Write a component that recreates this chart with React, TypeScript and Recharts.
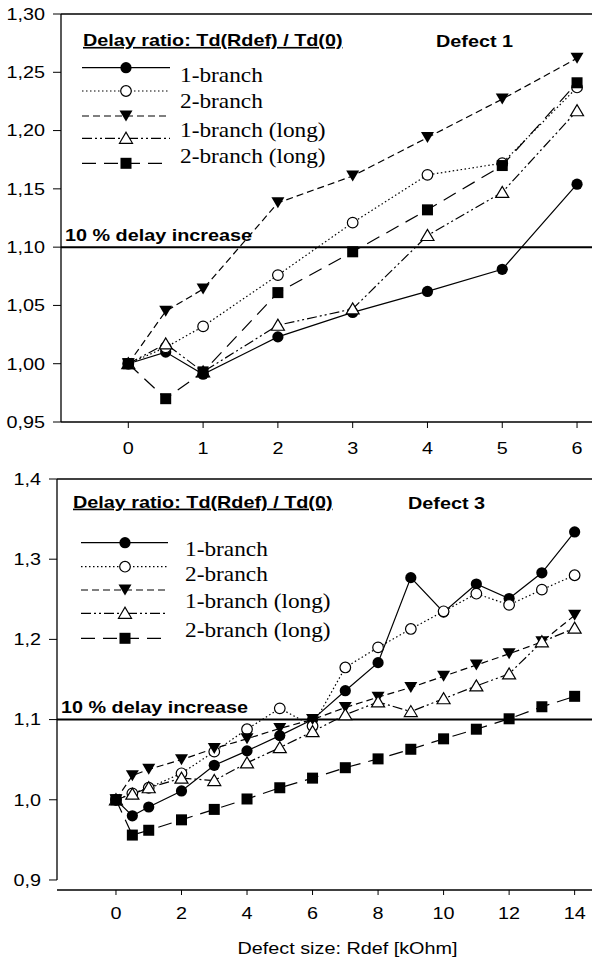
import React from "react";
import {
  LineChart,
  Line,
  XAxis,
  YAxis,
  ReferenceLine,
  Customized,
} from "recharts";

// ---- data: top panel (Defect 1) ----
const xTop = [0, 0.5, 1, 2, 3, 4, 5, 6];
const top1Branch = [1.0, 1.01, 0.991, 1.023, 1.044, 1.062, 1.081, 1.154];
const top2Branch = [1.0, 1.014, 1.032, 1.076, 1.121, 1.162, 1.172, 1.237];
const topDashTri = [1.0, 1.045, 1.064, 1.138, 1.161, 1.194, 1.227, 1.262];
const topOpenTri = [1.0, 1.017, 0.993, 1.033, 1.047, 1.11, 1.147, 1.217];
const topSquare = [1.0, 0.97, 0.993, 1.061, 1.096, 1.132, 1.17, 1.241];
const topXTicks = [0, 1, 2, 3, 4, 5, 6];
const topYTicks = [0.95, 1.0, 1.05, 1.1, 1.15, 1.2, 1.25, 1.3];

// ---- data: bottom panel (Defect 3) ----
const xBottom = [0, 0.5, 1, 2, 3, 4, 5, 6, 7, 8, 9, 10, 11, 12, 13, 14];
const bot1Branch = [1.0, 0.98, 0.991, 1.011, 1.043, 1.061, 1.08, 1.1, 1.136, 1.171, 1.277, 1.234, 1.269, 1.251, 1.283, 1.334];
const bot2Branch = [1.0, 1.008, 1.015, 1.033, 1.06, 1.088, 1.114, 1.092, 1.165, 1.19, 1.213, 1.235, 1.257, 1.243, 1.262, 1.28];
const botDashTri = [1.0, 1.03, 1.038, 1.05, 1.064, 1.076, 1.089, 1.1, 1.115, 1.128, 1.14, 1.154, 1.168, 1.182, 1.197, 1.23];
const botOpenTri = [1.0, 1.007, 1.015, 1.027, 1.024, 1.046, 1.065, 1.085, 1.106, 1.122, 1.11, 1.126, 1.142, 1.157, 1.197, 1.214];
const botSquare = [1.0, 0.956, 0.962, 0.975, 0.988, 1.001, 1.015, 1.027, 1.04, 1.051, 1.063, 1.076, 1.088, 1.101, 1.116, 1.129];
const botXTicks = [0, 2, 4, 6, 8, 10, 12, 14];
const botYTicks = [0.9, 1.0, 1.1, 1.2, 1.3, 1.4];

const legendLabels = ["1-branch", "2-branch", "1-branch (long)", "2-branch (long)"];
const threshold = 1.1;

const SANS = '"Liberation Sans", Arial, sans-serif';
const SERIF = '"Liberation Serif", "Times New Roman", serif';
const SX = 1.2; // the original text is stretched sideways

const series = [
  { key: "s1", kind: "dot", dash: undefined },
  { key: "s2", kind: "ring", dash: "1.5 2.5" },
  { key: "s3", kind: "down", dash: "7 4" },
  { key: "s4", kind: "up", dash: "10 3 2 3 2 3" },
  { key: "s5", kind: "square", dash: "14 8" },
];

const topData = xTop.map((x, i) => ({
  x,
  s1: top1Branch[i],
  s2: top2Branch[i],
  s3: topDashTri[i],
  s4: topOpenTri[i],
  s5: topSquare[i],
}));

const botData = xBottom.map((x, i) => ({
  x,
  s1: bot1Branch[i],
  s2: bot2Branch[i],
  s3: botDashTri[i],
  s4: botOpenTri[i],
  s5: botSquare[i],
}));

function Marker({ kind, cx, cy }: { kind: string; cx: number; cy: number }) {
  if (cx == null || cy == null) return null;
  switch (kind) {
    case "dot":
      return <circle cx={cx} cy={cy} r={5.6} fill="#000" />;
    case "ring":
      return <circle cx={cx} cy={cy} r={5.3} fill="#fff" stroke="#000" strokeWidth={1.2} />;
    case "down":
      return <polygon points={`${cx - 6.5},${cy - 5.5} ${cx + 6.5},${cy - 5.5} ${cx},${cy + 5.5}`} fill="#000" />;
    case "up":
      return (
        <polygon
          points={`${cx - 6.5},${cy + 5} ${cx + 6.5},${cy + 5} ${cx},${cy - 6}`}
          fill="#fff"
          stroke="#000"
          strokeWidth={1.2}
        />
      );
    default:
      return <rect x={cx - 5.5} y={cy - 5.5} width={11} height={11} fill="#000" />;
  }
}

function SansText({ x, y, children, bold, anchor = "start", dy, underline }: any) {
  return (
    <g transform={`translate(${x},${y}) scale(${SX},1)`}>
      <text
        x={0}
        y={0}
        dy={dy}
        textAnchor={anchor}
        fontFamily={SANS}
        fontSize={16.5}
        fontWeight={bold ? "bold" : "normal"}
        fill="#000"
        style={underline ? { textDecoration: "underline" } : undefined}
      >
        {children}
      </text>
    </g>
  );
}

const XTick = (props: any) => (
  <SansText x={props.x} y={props.y} anchor="middle" dy="0.71em">
    {props.payload.value}
  </SansText>
);

const makeYTick = (digits: number) => (props: any) => (
  <SansText x={props.x} y={props.y} anchor="end" dy="0.355em">
    {Number(props.payload.value).toFixed(digits).replace(".", ",")}
  </SansText>
);

const DelayLabel = (props: any) => {
  const vb = props.viewBox || {};
  return (
    <SansText x={vb.x + 4} y={vb.y - props.gap} bold>
      10 % delay increase
    </SansText>
  );
};

function LegendBlock({ rows, lineX, markX, textX, baselines, titleX, titleY, defect, defectX }: any) {
  return (
    <g>
      <SansText x={titleX} y={titleY} bold underline>
        Delay ratio: Td(Rdef) / Td(0)
      </SansText>
      <SansText x={defectX} y={titleY + 1} bold>
        {defect}
      </SansText>
      {series.map((s, i) => (
        <g key={s.key}>
          <line
            x1={lineX[0]}
            x2={lineX[1]}
            y1={rows[i]}
            y2={rows[i]}
            stroke="#000"
            strokeWidth={1.2}
            strokeDasharray={s.dash}
          />
          <Marker kind={s.kind} cx={markX} cy={rows[i]} />
        </g>
      ))}
      {legendLabels.map((t, i) => (
        <g key={t} transform={`translate(${textX},${baselines[i]}) scale(1.06,1)`}>
          <text x={0} y={0} fontFamily={SERIF} fontSize={22} fill="#000">
            {t}
          </text>
        </g>
      ))}
    </g>
  );
}

function renderLines() {
  return series.map((s) => (
    <Line
      key={s.key}
      type="linear"
      dataKey={s.key}
      stroke="#000"
      strokeWidth={1.2}
      strokeDasharray={s.dash}
      isAnimationActive={false}
      activeDot={false}
      dot={(p: any) => <Marker key={`${s.key}-${p.index}`} kind={s.kind} cx={p.cx} cy={p.cy} />}
    />
  ));
}

function TopChart() {
  return (
    <LineChart width={593} height={470} data={topData} margin={{ top: 14, right: 1, bottom: 0, left: 0 }}>
      <XAxis
        type="number"
        dataKey="x"
        domain={[-0.9, 6.2]}
        ticks={topXTicks}
        allowDataOverflow
        height={48}
        axisLine={{ stroke: "#000", strokeWidth: 1.3 }}
        tickLine={{ stroke: "#000" }}
        tickSize={6}
        tickMargin={14}
        tick={<XTick />}
      />
      <YAxis
        type="number"
        domain={[0.95, 1.3]}
        ticks={topYTicks}
        allowDataOverflow
        width={61}
        axisLine={{ stroke: "#000", strokeWidth: 1.3 }}
        tickLine={{ stroke: "#000" }}
        tickSize={8}
        tickMargin={8}
        tick={makeYTick(2)}
      />
      <ReferenceLine y={1.3} stroke="#000" strokeWidth={1.3} />
      <ReferenceLine y={threshold} stroke="#000" strokeWidth={2} label={<DelayLabel gap={6} />} />
      {renderLines()}
      <Customized
        component={
          <LegendBlock
            rows={[67.7, 91, 116, 138.3, 163.3]}
            lineX={[82, 170]}
            markX={126}
            textX={180}
            baselines={[81.7, 108, 136.5, 163]}
            titleX={83}
            titleY={46}
            defect="Defect 1"
            defectX={436}
          />
        }
      />
    </LineChart>
  );
}

const AxisTitle = (props: any) => {
  const vb = props.viewBox || {};
  return (
    <SansText x={vb.x + vb.width / 2 + 23} y={vb.y + 58} anchor="middle" dy="0.355em">
      Defect size: Rdef [kOhm]
    </SansText>
  );
};

function BottomChart() {
  return (
    <LineChart width={593} height={491} data={botData} margin={{ top: 9, right: 1, bottom: 0, left: 0 }}>
      <XAxis
        type="number"
        dataKey="x"
        domain={[-1.8, 14.53]}
        ticks={botXTicks}
        allowDataOverflow
        height={71}
        axisLine={{ stroke: "#000", strokeWidth: 1.3 }}
        tickLine={{ stroke: "#000" }}
        tickSize={5}
        tickMargin={12}
        tick={<XTick />}
        label={<AxisTitle />}
      />
      <YAxis
        type="number"
        domain={[0.8875, 1.4]}
        ticks={botYTicks}
        allowDataOverflow
        width={57}
        axisLine={false}
        tickLine={{ stroke: "#000" }}
        tickSize={8}
        tickMargin={8}
        tick={makeYTick(1)}
      />
      <ReferenceLine
        segment={[
          { x: -1.8, y: 0.9 },
          { x: -1.8, y: 1.4 },
        ]}
        stroke="#000"
        strokeWidth={1.3}
        ifOverflow="visible"
      />
      <ReferenceLine y={1.4} stroke="#000" strokeWidth={1.3} />
      <ReferenceLine y={threshold} stroke="#000" strokeWidth={2} label={<DelayLabel gap={7} />} />
      {renderLines()}
      <Customized
        component={
          <LegendBlock
            rows={[72.7, 96.7, 120, 143.3, 168.3]}
            lineX={[81, 168]}
            markX={125}
            textX={185}
            baselines={[86, 111, 138, 166.5]}
            titleX={73}
            titleY={37.7}
            defect="Defect 3"
            defectX={408}
          />
        }
      />
    </LineChart>
  );
}

export default function App() {
  return (
    <div style={{ position: "absolute", left: 0, top: 0, width: 593, height: 961, background: "#fff" }}>
      <div style={{ height: 470 }}>
        <TopChart />
      </div>
      <div style={{ height: 491 }}>
        <BottomChart />
      </div>
    </div>
  );
}
